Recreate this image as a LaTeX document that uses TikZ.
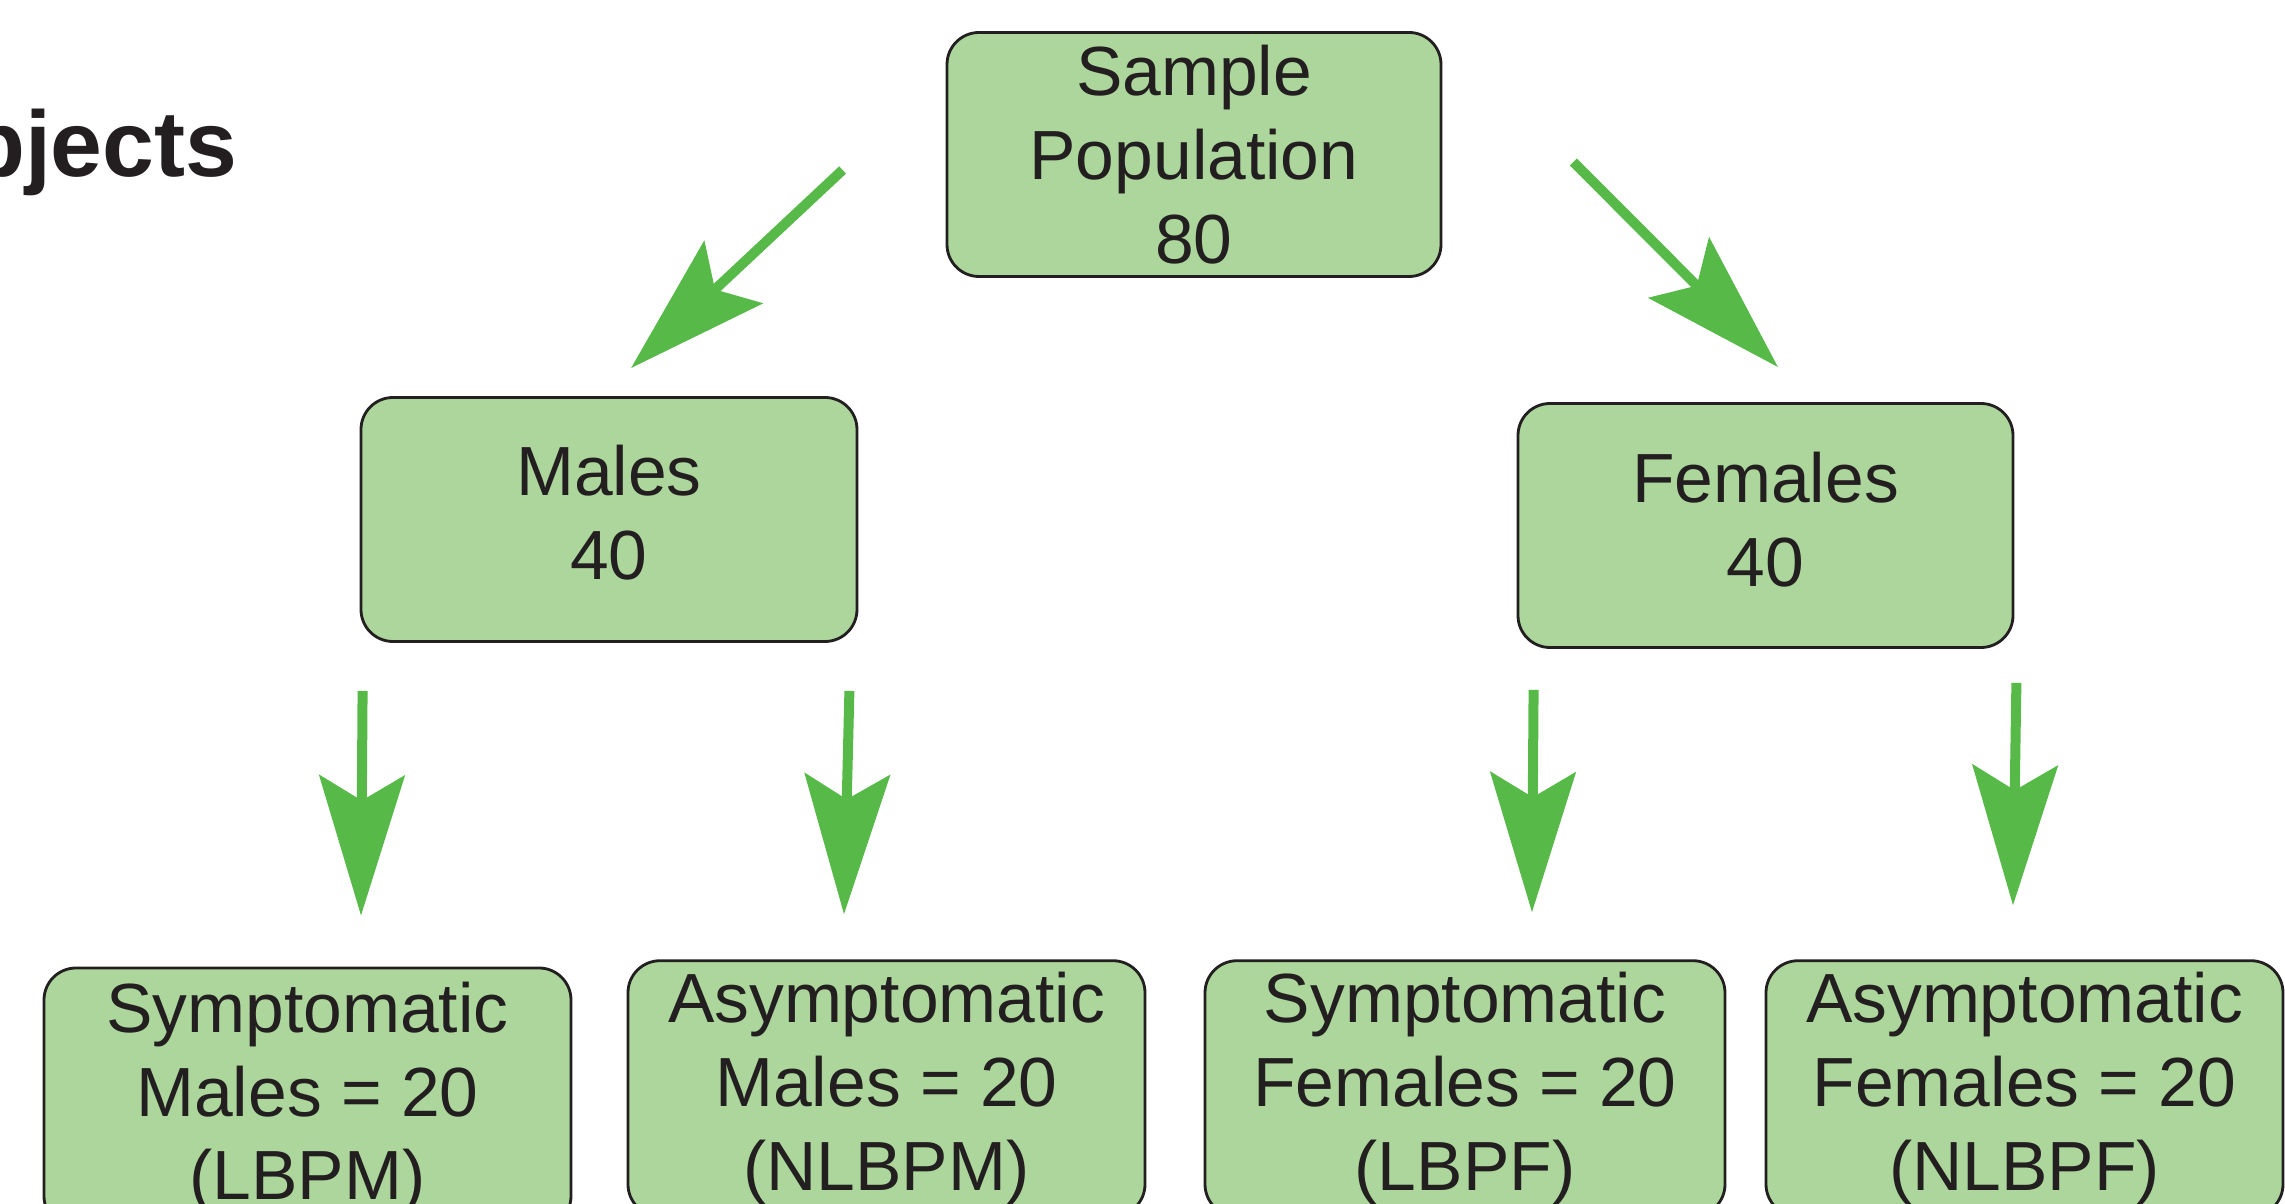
\documentclass[tikz,border=0pt]{standalone}
\usepackage{fontspec}
\setmainfont{Liberation Sans}
\definecolor{boxgreen}{RGB}{172,214,155}
\definecolor{arrowgreen}{RGB}{87,185,72}
\definecolor{edgegray}{RGB}{35,31,32}
\usetikzlibrary{arrows.meta,positioning}

\begin{document}
\begin{tikzpicture}[
    popbox/.style={rectangle, rounded corners=0.32cm, minimum width=4.95cm, minimum height=2.44cm,
      draw=edgegray, line width=0.8pt, fill=boxgreen, align=center, text=edgegray,
      font=\fontsize{19.8}{23.8}\selectfont},
    subbox/.style={popbox, minimum width=5.18cm, minimum height=2.53cm},
    splitarrow/.style={draw=arrowgreen, line width=0.1cm,
      -{Stealth[length=1.4cm, width=0.85cm, inset=0.25cm]}}
  ]
    \useasboundingbox (0,0) rectangle (22.85,12.03);
    \clip (0,0) rectangle (22.85,12.03);

    % Title, cut at the left edge
    \node[anchor=base east, inner sep=0pt, text=edgegray,
      font=\fontsize{26.5}{30}\selectfont\bfseries] (title) at (2.38,10.26) {bjects};

    % Population boxes
    \node[popbox, minimum width=4.94cm] (pop) at (11.94,10.485) {Sample\\Population\\80};
    \node[popbox, minimum width=4.96cm, text depth=0.14cm] (males) at (6.09,6.835) {Males\\40};
    \node[popbox, text depth=0.12cm] (females) at (17.655,6.775) {Females\\40};

    % Sub-groups
    \node[subbox, minimum width=5.27cm, minimum height=2.6cm] (smale) at (3.075,1.05)
      {Symptomatic\\Males = 20\\(LBPM)};
    \node[subbox, minimum width=5.17cm] (amale) at (8.865,1.145)
      {Asymptomatic\\Males = 20\\(NLBPM)};
    \node[subbox, minimum width=5.20cm] (sfemale) at (14.65,1.145)
      {Symptomatic\\Females = 20\\(LBPF)};
    \node[subbox, minimum width=5.17cm] (afemale) at (20.245,1.145)
      {Asymptomatic\\Females = 20\\(NLBPF)};

    % Arrows
    \draw[splitarrow] ([shift={(-1.03,-0.155)}]pop.west) -- ([shift={(0.22,0.28)}]males.north);
    \draw[splitarrow] ([shift={(1.31,-0.075)}]pop.east) -- ([shift={(0.125,0.35)}]females.north);
    \draw[splitarrow] ([shift={(0.03,-0.48)}]males.south west) -- ([shift={(0.535,0.51)}]smale.north);
    \draw[splitarrow] ([shift={(-0.09,-0.48)}]males.south east) -- ([shift={(-0.425,0.45)}]amale.north);
    \draw[splitarrow] ([shift={(0.17,-0.41)}]females.south west) -- ([shift={(0.67,0.47)}]sfemale.north);
    \draw[splitarrow] ([shift={(0.02,-0.34)}]females.south east) -- ([shift={(-0.115,0.54)}]afemale.north);
  \end{tikzpicture}
\end{document}
